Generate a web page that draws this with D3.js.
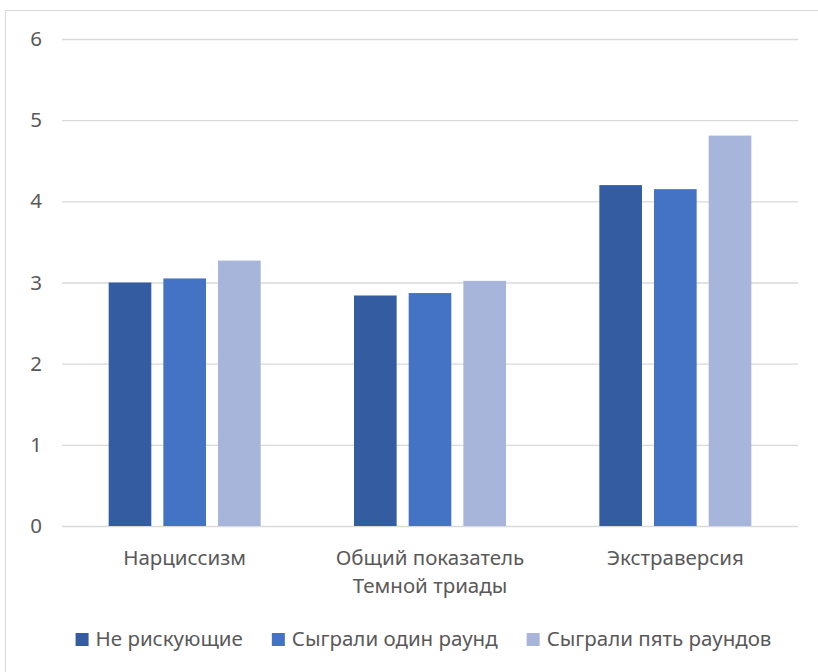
<!DOCTYPE html>
<html><head><meta charset="utf-8">
<script src="https://cdn.jsdelivr.net/npm/d3@7"></script>
<style>body{margin:0;background:#fff}svg{display:block}text{font-family:"Noto Sans",sans-serif;fill:#595959}</style>
</head><body><svg id="c" width="818" height="672"></svg>
<script>
const categories = [["Нарциссизм"], ["Общий показатель", "Темной триады"], ["Экстраверсия"]];
const seriesNames = ["Не рискующие", "Сыграли один раунд", "Сыграли пять раундов"];
const notRisking = [3.00, 2.84, 4.20];
const oneRound = [3.05, 2.87, 4.15];
const fiveRounds = [3.27, 3.02, 4.81];
const yTicks = [0, 1, 2, 3, 4, 5, 6];
const colors = ["#345DA1", "#4472C4", "#A7B5DB"];

const series = [notRisking, oneRound, fiveRounds];
const svg = d3.select("#c");
const L = 62, R = 798, T = 39, B = 526;
const FS = 20.5;

svg.append("rect").attr("x", 5.5).attr("y", 10.5).attr("width", 830).attr("height", 700)
  .attr("fill", "none").attr("stroke", "#d9d9d9");

const y = d3.scaleLinear().domain([0, 6]).range([B, T]);
const x0 = d3.scaleBand().domain(d3.range(categories.length)).range([L, R]).padding(0);
const groupW = 152;
const x1 = d3.scaleBand().domain(d3.range(series.length)).range([0, groupW]).paddingInner(0.22);

const yAxis = d3.axisLeft(y).tickValues(yTicks).tickSize(-(R - L)).tickFormat(d3.format("d"));
const ga = svg.append("g").attr("transform", `translate(${L},0)`).call(yAxis);
ga.select(".domain").remove();
ga.selectAll(".tick line").attr("stroke", "#d9d9d9").attr("stroke-width", 1.3);
ga.selectAll(".tick text").attr("x", -26).attr("text-anchor", "middle").attr("font-size", FS)
  .attr("font-family", '"Noto Sans",sans-serif').attr("fill", "#595959");

const g = svg.append("g");
series.forEach((vals, si) => {
  g.selectAll(null).data(vals).enter().append("rect")
    .attr("x", (d, i) => x0(i) + (x0.bandwidth() - groupW) / 2 + x1(si))
    .attr("width", x1.bandwidth())
    .attr("y", d => y(d))
    .attr("height", d => y(0) - y(d))
    .attr("fill", colors[si]);
});

categories.forEach((lines, i) => {
  const cxp = x0(i) + x0.bandwidth() / 2;
  const t = svg.append("text").attr("text-anchor", "middle").attr("font-size", FS)
    .attr("x", cxp).attr("y", 565);
  lines.forEach((ln, k) => t.append("tspan").attr("x", cxp).attr("dy", k ? 28 : 0).text(ln));
});

// legend
const lg = svg.append("g");
let cx = 0;
seriesNames.forEach((n, i) => {
  const it = lg.append("g").attr("transform", `translate(${cx},0)`);
  it.append("rect").attr("x", 0).attr("y", -13).attr("width", 13).attr("height", 13).attr("fill", colors[i]);
  const tx = it.append("text").attr("x", 20).attr("y", 0).attr("font-size", FS).text(n);
  const w = tx.node().getComputedTextLength();
  cx += 20 + w + 29;
});
const totalW = cx - 29;
lg.attr("transform", `translate(${423.5 - totalW / 2},646)`);
</script></body></html>
